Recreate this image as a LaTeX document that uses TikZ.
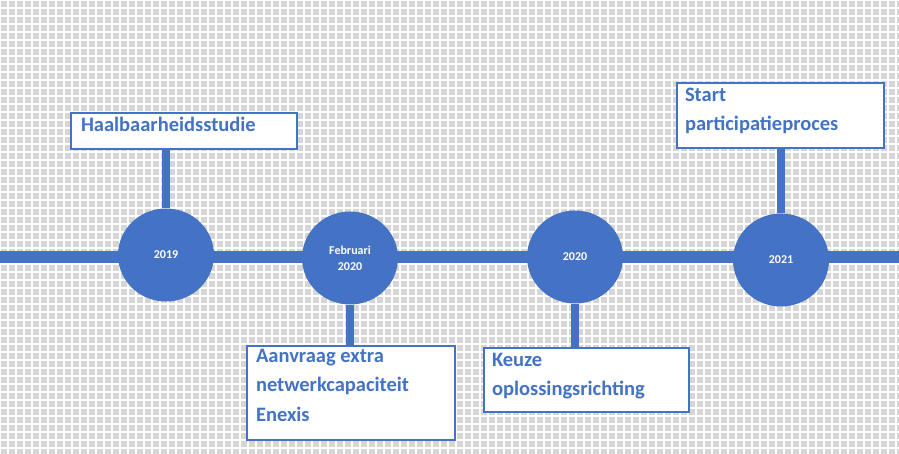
\documentclass[tikz,border=0pt]{standalone}
\usepackage{fontspec}
\setmainfont{Carlito}
\definecolor{bl}{HTML}{4472C4}
\definecolor{bg}{HTML}{D6D6D6}
\tikzset{
 ev/.style={ellipse,fill=bl,minimum width=96pt,minimum height=93pt,inner sep=0pt,text=white,font=\bfseries\fontsize{12}{16}\selectfont,align=center},
 lbl/.style={draw=bl,line width=2pt,fill=white,text=bl,font=\bfseries\fontsize{20.5}{29.5}\selectfont,align=left,anchor=north west,inner sep=0pt,text depth=0pt},
 stem/.style={bl,line width=8pt},
}
\usetikzlibrary{shapes.geometric}
\begin{document}
\begin{tikzpicture}[x=1pt,y=-1pt]
\useasboundingbox (0,0) rectangle (899,454);
\fill[bg] (0,0) rectangle (899,454);
\draw[white,line width=2pt] (0,0) grid[step=8pt] (899,454);
\draw[bl,line width=12pt] (0,257) -- (899,257);
\node[ev] (c1) at (166,255) {2019};
\node[ev] (c2) at (350,258) {Februari\\2020};
\node[ev] (c3) at (575,257) {2020};
\node[ev] (c4) at (781,260) {2021};
\draw[lbl] (71,113) rectangle (297,149);
\node[lbl,draw=none,fill=none] (b1) at (80,116) {Haalbaarheidsstudie};
\draw[lbl] (247,346) rectangle (455,440);
\node[lbl,draw=none,fill=none] (b2) at (255,348) {Aanvraag extra\\netwerkcapaciteit\\Enexis};
\draw[lbl] (484,348) rectangle (689,412);
\node[lbl,draw=none,fill=none] (b3) at (491,352) {Keuze\\oplossingsrichting};
\draw[lbl] (677,83) rectangle (884,148);
\node[lbl,draw=none,fill=none] (b4) at (684,87) {Start\\participatieproces};
\coordinate (t1) at (166,150);
\coordinate (t2) at (350,345);
\coordinate (t3) at (575,347);
\coordinate (t4) at (781,149);
\draw[stem] (t1) -- (c1.north);
\draw[stem] (c2.south) -- (t2);
\draw[stem] (c3.south) -- (t3);
\draw[stem] (t4) -- (c4.north);
\end{tikzpicture}
\end{document}
